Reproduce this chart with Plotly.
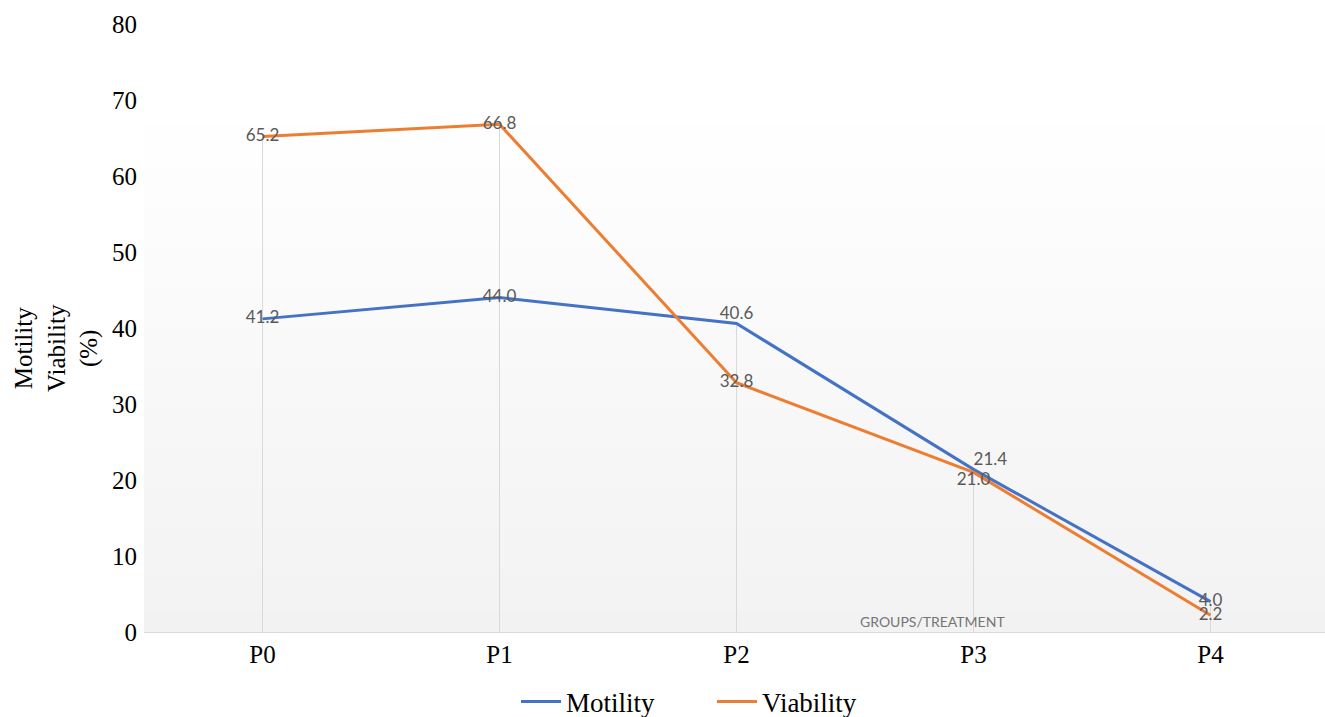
import base64
import struct
import zlib

import plotly.graph_objects as go

categories = ["P0", "P1", "P2", "P3", "P4"]
motility = [41.2, 44.0, 40.6, 21.4, 4.0]
viability = [65.2, 66.8, 32.8, 21.0, 2.2]
motility_pos = ["middle center", "middle center", "top center", "top right", "middle center"]
viability_pos = ["middle center", "middle center", "middle center", "bottom center", "middle center"]
y_ticks = [0, 10, 20, 30, 40, 50, 60, 70, 80]

BLUE = "#4472C4"
ORANGE = "#ED7D31"
LABEL = "#595959"


def gradient_png(top_rgb, bottom_rgb, h=256):
    """Tiny 1 x h PNG vertical gradient, returned as data URI."""
    raw = b""
    for i in range(h):
        t = i / (h - 1)
        px = bytes(round(a + (b - a) * t) for a, b in zip(top_rgb, bottom_rgb))
        raw += b"\x00" + px

    def chunk(tag, data):
        c = struct.pack(">I", len(data)) + tag + data
        return c + struct.pack(">I", zlib.crc32(tag + data) & 0xFFFFFFFF)

    png = b"\x89PNG\r\n\x1a\n"
    png += chunk(b"IHDR", struct.pack(">IIBBBBB", 1, h, 8, 2, 0, 0, 0))
    png += chunk(b"IDAT", zlib.compress(raw))
    png += chunk(b"IEND", b"")
    return "data:image/png;base64," + base64.b64encode(png).decode()


fig = go.Figure()

# drop lines
for c, m, v in zip(categories, motility, viability):
    fig.add_trace(go.Scatter(
        x=[c, c], y=[0, max(m, v)], mode="lines",
        line=dict(color="#d9d9d9", width=1),
        hoverinfo="skip", showlegend=False,
    ))

fig.add_trace(go.Scatter(
    x=categories, y=motility, name="Motility", mode="lines+text",
    line=dict(color=BLUE, width=3),
    text=[f"{v:.1f}" for v in motility], textposition=motility_pos,
    textfont=dict(family="Lato", size=17, color=LABEL), cliponaxis=False,
))
fig.add_trace(go.Scatter(
    x=categories, y=viability, name="Viability", mode="lines+text",
    line=dict(color=ORANGE, width=3),
    text=[f"{v:.1f}" for v in viability], textposition=viability_pos,
    textfont=dict(family="Lato", size=17, color=LABEL), cliponaxis=False,
))

plot_h = 632 - 24
bg_top_paper = (632 - 106) / plot_h

fig.update_layout(
    width=1325, height=717,
    margin=dict(l=144, r=0, t=24, b=85, autoexpand=False),
    paper_bgcolor="white", plot_bgcolor="white",
    font=dict(family="Liberation Serif", size=25, color="#000000"),
    showlegend=True,
    legend=dict(orientation="h", xref="paper", yref="paper",
                x=(712 - 144) / 1181, y=(632 - 702) / plot_h,
                xanchor="center", yanchor="middle",
                font=dict(family="Liberation Serif", size=27, color="#000000"),
                entrywidth=141, itemwidth=40,
                traceorder="normal", bgcolor="rgba(0,0,0,0)"),
    xaxis=dict(type="category", categoryorder="array", categoryarray=categories,
               range=[-0.5, 4.483], showgrid=False, zeroline=False,
               showline=True, linecolor="#d9d9d9", linewidth=1,
               ticks="", tickfont=dict(family="Liberation Serif", size=25)),
    yaxis=dict(range=[0, 80], tickvals=y_ticks, showgrid=False, zeroline=False,
               showline=False, ticks="", ticklabelstandoff=6,
               tickfont=dict(family="Liberation Serif", size=25)),
    images=[dict(source=gradient_png((255, 255, 255), (242, 242, 242)),
                 xref="paper", yref="paper", x=0, y=bg_top_paper,
                 sizex=1.01, sizey=bg_top_paper, sizing="stretch",
                 xanchor="left", yanchor="top", layer="below")],
    annotations=[
        dict(text="Motility<br>Viability<br>(%)", textangle=-90,
             xref="paper", yref="paper", x=(56 - 144) / 1181, y=(632 - 348) / plot_h,
             xanchor="center", yanchor="middle", showarrow=False,
             font=dict(family="Liberation Serif", size=25, color="#000000")),
        dict(text="GROUPS/TREATMENT", xref="paper", yref="paper",
             x=(932 - 144) / 1181, y=0, xanchor="center", yanchor="bottom",
             showarrow=False, font=dict(family="Lato", size=14, color="#757575")),
    ],
)

fig.write_html(
    "out.html",
    config={"displayModeBar": False},
    post_script="document.body.style.margin='0';document.body.style.overflow='hidden';",
)
